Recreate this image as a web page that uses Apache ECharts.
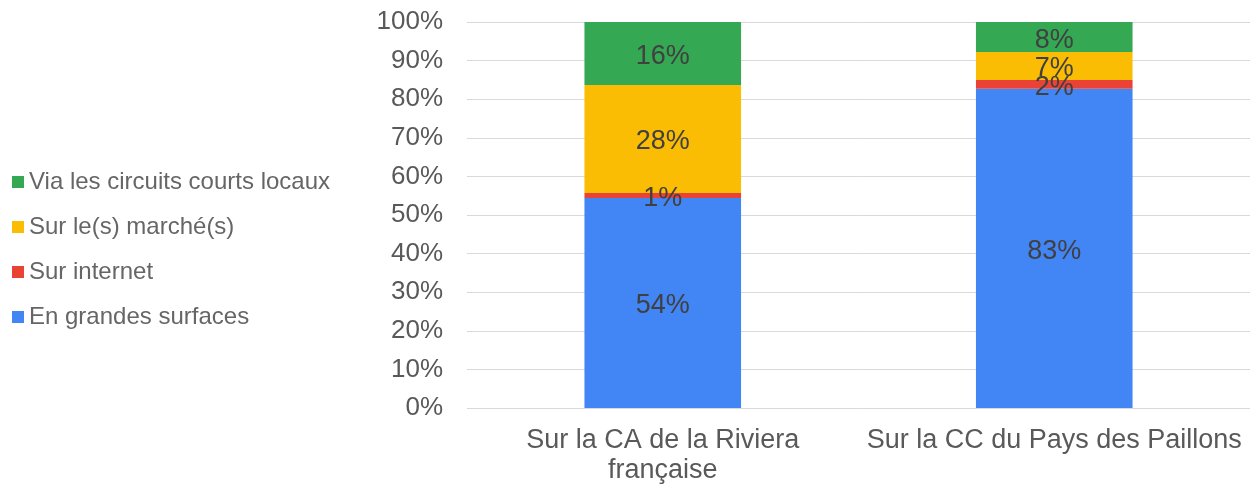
<!DOCTYPE html>
<html>
<head>
<meta charset="utf-8">
<script src="https://cdn.jsdelivr.net/npm/echarts@6/dist/echarts.min.js"></script>
<style>
  html, body { margin: 0; padding: 0; background: #fff; }
  #chart { width: 1251px; height: 486px; }
</style>
</head>
<body>
<div id="chart"></div>
<script>
const categories = ["Sur la CA de la Riviera\nfrançaise", "Sur la CC du Pays des Paillons"];
const seriesNames = ["En grandes surfaces", "Sur internet", "Sur le(s) marché(s)", "Via les circuits courts locaux"];
const grandesSurfaces = [54.4, 82.7];
const internet = [1.3, 2.3];
const marches = [28.0, 7.2];
const circuitsCourts = [16.3, 7.8];
const colors = ["#4285f4", "#ea4335", "#fbbc04", "#34a853"];

const values = [grandesSurfaces, internet, marches, circuitsCourts];
const fontFamily = "'Liberation Sans', Arial, sans-serif";

const chart = echarts.init(document.getElementById("chart"));

chart.setOption({
  animation: false,
  textStyle: { fontFamily },
  legend: {
    orient: "vertical",
    left: 7,
    top: 165,
    data: seriesNames.slice().reverse(),
    icon: "rect",
    itemWidth: 12,
    itemHeight: 12,
    itemGap: 21,
    textStyle: { fontSize: 24, color: "#666", fontFamily },
  },
  grid: { left: 467, right: 1, top: 22, bottom: 77 },
  xAxis: {
    type: "category",
    data: categories,
    axisLine: { show: false },
    axisTick: { show: false },
    axisLabel: { interval: 0, fontSize: 27, color: "#595959", lineHeight: 30, margin: 18, fontFamily },
  },
  yAxis: {
    type: "value",
    min: 0,
    max: 100,
    interval: 10,
    axisLine: { show: false },
    axisTick: { show: false },
    splitLine: { lineStyle: { color: "#d9d9d9", width: 1 } },
    axisLabel: { formatter: "{value}%", fontSize: 26, color: "#595959", margin: 24, fontFamily },
  },
  series: seriesNames.map((name, i) => ({
    name,
    type: "bar",
    stack: "total",
    barWidth: "40%",
    data: values[i],
    itemStyle: { color: colors[i] },
    label: {
      show: true,
      position: "inside",
      offset: [0, 3],
      fontSize: 27,
      color: "#404040",
      fontFamily,
      formatter: (p) => Math.round(p.value) + "%",
    },
  })),
});
</script>
</body>
</html>
